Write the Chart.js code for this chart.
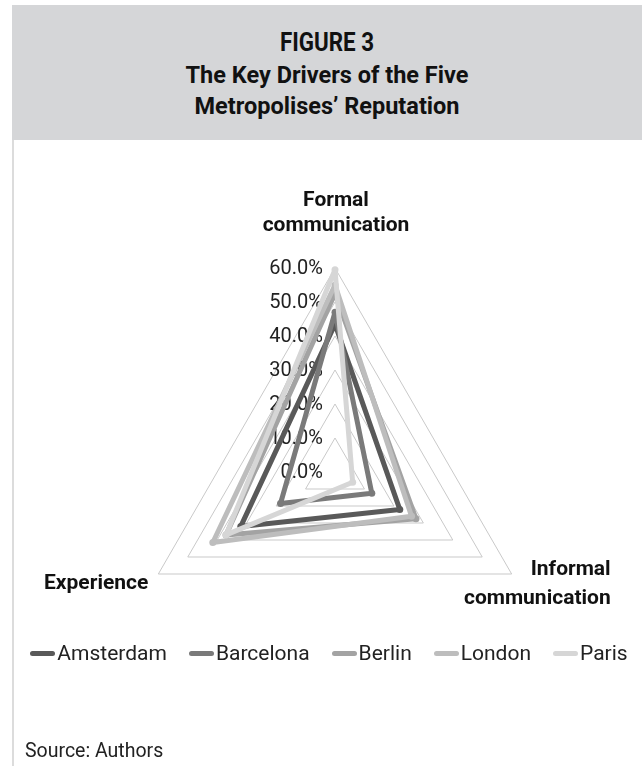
<!DOCTYPE html>
<html>
<head>
<meta charset="utf-8">
<script src="https://cdn.jsdelivr.net/npm/chart.js@4/dist/chart.umd.min.js"></script>
<style>
  html, body { margin: 0; padding: 0; background: #fff; }
  #page { position: relative; width: 642px; height: 766px; overflow: hidden; font-family: Roboto, "Open Sans", sans-serif; }
  #frame { position: absolute; left: 12px; top: 140px; width: 2px; height: 626px; background: #dcdcdc; }
  #header { position: absolute; left: 12px; top: 5px; width: 630px; height: 135px; background: #d5d6d8;
            text-align: center; color: #111; font-weight: bold; }
  #header .fig { position: absolute; left: 0; right: 0; top: 22px; font-size: 26px; line-height: 30px;
                 transform: scaleX(0.86); }
  #header .sub { position: absolute; left: 0; right: 0; top: 55px; font-size: 23.5px; line-height: 31px; }
  #chart { position: absolute; left: 0; top: 0; width: 642px; height: 766px; }
  #legend { position: absolute; left: 16px; width: 626px; top: 640px; height: 26px; display: flex;
            justify-content: center; align-items: center; font-size: 21px; color: #222; }
  #legend .item { display: flex; align-items: center; margin: 0 11px; }
  #legend .swatch { width: 25px; height: 5px; border-radius: 3px; margin-right: 2px; }
  #source { position: absolute; left: 25px; top: 739px; font-size: 19.5px; color: #222; }
</style>
</head>
<body>
<div id="page">
  <div id="header">
    <div class="fig">FIGURE 3</div>
    <div class="sub">The Key Drivers of the Five<br>Metropolises’ Reputation</div>
  </div>
  <div id="frame"></div>
  <canvas id="chart" width="642" height="766"></canvas>
  <div id="legend"></div>
  <div id="source">Source: Authors</div>
</div>
<script>
// Axes of the radar (clockwise from the top)
const drivers = [['Formal', 'communication'], ['Informal', 'communication'], 'Experience'];

// Share of each driver per city, in percent
const cities = ['Amsterdam', 'Barcelona', 'Berlin', 'London', 'Paris'];
const amsterdam = [43.5, 22.0, 32.0];
const barcelona = [47.0, 12.5, 18.5];
const berlin    = [52.5, 27.5, 37.0];
const london    = [55.0, 26.0, 41.5];
const paris     = [59.5, 6.0, 37.0];
const cityValues = [amsterdam, barcelona, berlin, london, paris];

// Radial tick labels
const tickValues = [0, 10, 20, 30, 40, 50, 60];
const tickLabels = ['0.0%', '10.0%', '20.0%', '30.0%', '40.0%', '50.0%', '60.0%'];

const cityColors = ['#595959', '#7a7a7a', '#a3a3a3', '#bdbdbd', '#d6d6d6'];

// Tick labels sit to the left of the vertical axis; axis titles sit beside each vertex
const axisText = {
  id: 'axisText',
  beforeDatasetsDraw(chart) {
    const r = chart.scales.r;
    const ctx = chart.ctx;
    ctx.save();
    ctx.fillStyle = '#222';
    ctx.font = '20px Roboto, sans-serif';
    ctx.textAlign = 'right';
    ctx.textBaseline = 'middle';
    tickValues.forEach((v, i) => {
      const p = r.getPointPositionForValue(0, v);
      ctx.fillText(tickLabels[i], p.x - 12, p.y + 1);
    });

    ctx.fillStyle = '#111';
    ctx.font = 'bold 21px Roboto, sans-serif';
    const top = r.getPointPosition(0, r.drawingArea);
    ctx.textAlign = 'center';
    ctx.fillText(drivers[0][0], top.x + 1, top.y - 67);
    ctx.fillText(drivers[0][1], top.x + 1, top.y - 42);

    const right = r.getPointPosition(1, r.drawingArea);
    ctx.textAlign = 'right';
    ctx.fillText(drivers[1][0], right.x + 99, right.y - 4);
    ctx.fillText(drivers[1][1], right.x + 99, right.y + 25);

    const left = r.getPointPosition(2, r.drawingArea);
    ctx.fillText(drivers[2], left.x - 10, left.y + 10);
    ctx.restore();
  }
};

new Chart(document.getElementById('chart'), {
  type: 'radar',
  data: {
    labels: drivers,
    datasets: cities.map((name, i) => ({
      label: name,
      data: cityValues[i],
      borderColor: cityColors[i],
      backgroundColor: cityColors[i],
      pointBackgroundColor: cityColors[i],
      pointBorderWidth: 0,
      pointRadius: 3.5,
      borderWidth: 5,
      borderJoinStyle: 'round',
      borderCapStyle: 'round',
      fill: false,
      tension: 0,
      order: cities.length - i
    }))
  },
  options: {
    responsive: false,
    animation: false,
    events: [],
    layout: { padding: { left: 131, right: 103, top: 268, bottom: 90 } },
    plugins: { legend: { display: false }, tooltip: { enabled: false } },
    scales: {
      r: {
        min: 0,
        max: 60,
        ticks: { stepSize: 10, display: false },
        grid: { circular: false, color: '#c9c9c9', lineWidth: 1 },
        angleLines: { display: false },
        pointLabels: { display: false }
      }
    }
  },
  plugins: [axisText]
});

// Legend built from the same city names and colours
const legend = document.getElementById('legend');
cities.forEach((name, i) => {
  const item = document.createElement('div');
  item.className = 'item';
  const sw = document.createElement('span');
  sw.className = 'swatch';
  sw.style.background = cityColors[i];
  const label = document.createElement('span');
  label.textContent = name;
  item.appendChild(sw);
  item.appendChild(label);
  legend.appendChild(item);
});
</script>
</body>
</html>
